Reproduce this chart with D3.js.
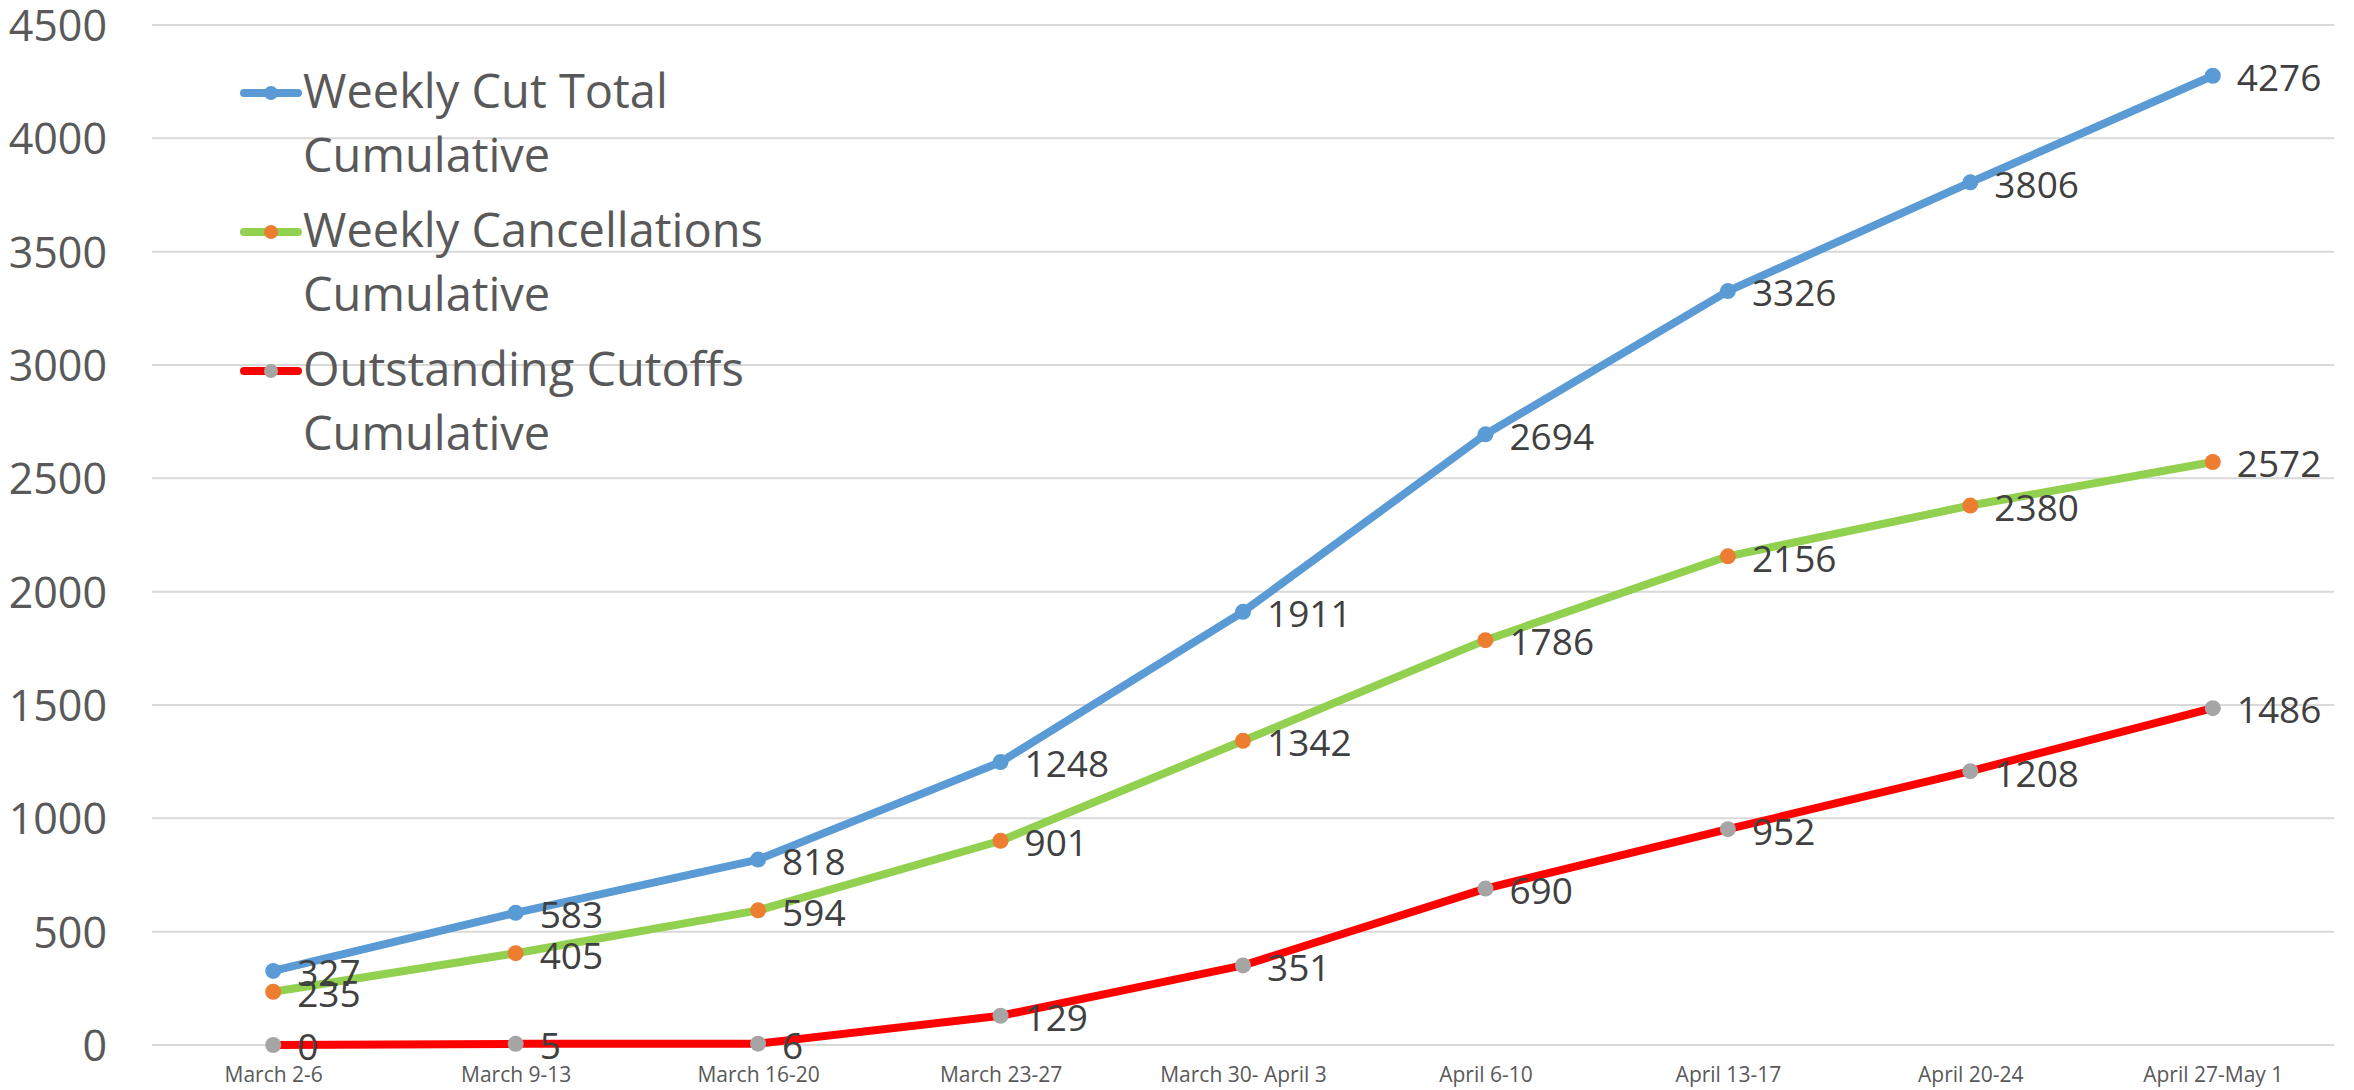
<!DOCTYPE html>
<html>
<head>
<meta charset="utf-8">
<script src="https://cdn.jsdelivr.net/npm/d3@7/dist/d3.min.js"></script>
<style>
  html, body { margin: 0; padding: 0; background: #ffffff; }
  svg { display: block; }
  text { font-family: "Open Sans", "Noto Sans", sans-serif; }
</style>
</head>
<body>
<svg id="chart" width="2354" height="1090"></svg>
<script>
const categories = ["March 2-6", "March 9-13", "March 16-20", "March 23-27", "March 30- April 3", "April 6-10", "April 13-17", "April 20-24", "April 27-May 1"];
const cutTotal = [327, 583, 818, 1248, 1911, 2694, 3326, 3806, 4276];
const cancellations = [235, 405, 594, 901, 1342, 1786, 2156, 2380, 2572];
const outstanding = [0, 5, 6, 129, 351, 690, 952, 1208, 1486];
const yTicks = [0, 500, 1000, 1500, 2000, 2500, 3000, 3500, 4000, 4500];
const seriesNames = [["Weekly Cut Total", "Cumulative"], ["Weekly Cancellations", "Cumulative"], ["Outstanding Cutoffs", "Cumulative"]];

const series = [
  { name: seriesNames[0], values: cutTotal, line: "#5B9BD5", marker: "#5B9BD5" },
  { name: seriesNames[1], values: cancellations, line: "#92D050", marker: "#ED7D31" },
  { name: seriesNames[2], values: outstanding, line: "#FF0000", marker: "#A5A5A5" }
];

const svg = d3.select("#chart");
const plotLeft = 152, plotRight = 2334, plotTop = 25, plotBottom = 1045;

const x = d3.scalePoint().domain(categories).range([plotLeft, plotRight]).padding(0.5);
const y = d3.scaleLinear().domain([0, 4500]).range([plotBottom, plotTop]);

// gridlines
svg.append("g").selectAll("line").data(yTicks).join("line")
  .attr("x1", plotLeft).attr("x2", plotRight)
  .attr("y1", d => y(d)).attr("y2", d => y(d))
  .attr("stroke", "#d9d9d9").attr("stroke-width", 2);

// y axis labels
const yAxis = svg.append("g").attr("transform", `translate(107,0)`)
  .call(d3.axisLeft(y).tickValues(yTicks).tickSize(0).tickPadding(0).tickFormat(d3.format("d")));
yAxis.select(".domain").remove();
yAxis.selectAll("text")
  .attr("font-size", 43).attr("fill", "#595959")
  .attr("font-family", "'Open Sans', sans-serif")
  .attr("dy", "0.36em");

// x axis labels
const xAxis = svg.append("g").attr("transform", `translate(0,1082)`)
  .call(d3.axisBottom(x).tickSize(0).tickPadding(0));
xAxis.select(".domain").remove();
xAxis.selectAll("text")
  .attr("y", 0).attr("dy", 0)
  .attr("font-size", 21).attr("fill", "#595959")
  .attr("font-family", "'Open Sans', sans-serif");

const line = d3.line()
  .x((d, i) => x(categories[i]))
  .y(d => y(d));

series.forEach(s => {
  svg.append("path")
    .datum(s.values)
    .attr("d", line)
    .attr("fill", "none")
    .attr("stroke", s.line)
    .attr("stroke-width", 8)
    .attr("stroke-linejoin", "round")
    .attr("stroke-linecap", "round");
  svg.append("g").selectAll("circle").data(s.values).join("circle")
    .attr("cx", (d, i) => x(categories[i]))
    .attr("cy", d => y(d))
    .attr("r", 8)
    .attr("fill", s.marker);
});

series.forEach(s => {
  svg.append("g").selectAll("text").data(s.values).join("text")
    .attr("x", (d, i) => x(categories[i]) + 24)
    .attr("y", d => y(d) + 2)
    .attr("dy", "0.36em")
    .attr("font-size", 37)
    .attr("fill", "#404040")
    .text(d => d);
});

// legend
const legend = svg.append("g");
series.forEach((s, k) => {
  const baseY = 108 + k * 139;
  const symY = baseY - 15;
  legend.append("line")
    .attr("x1", 244).attr("x2", 298)
    .attr("y1", symY).attr("y2", symY)
    .attr("stroke", s.line).attr("stroke-width", 8).attr("stroke-linecap", "round");
  legend.append("circle")
    .attr("cx", 271).attr("cy", symY).attr("r", 7)
    .attr("fill", s.marker);
  s.name.forEach((t, j) => {
    legend.append("text")
      .attr("x", 303).attr("y", baseY + j * 64)
      .attr("font-size", 47).attr("fill", "#595959")
      .text(t);
  });
});
</script>
</body>
</html>
